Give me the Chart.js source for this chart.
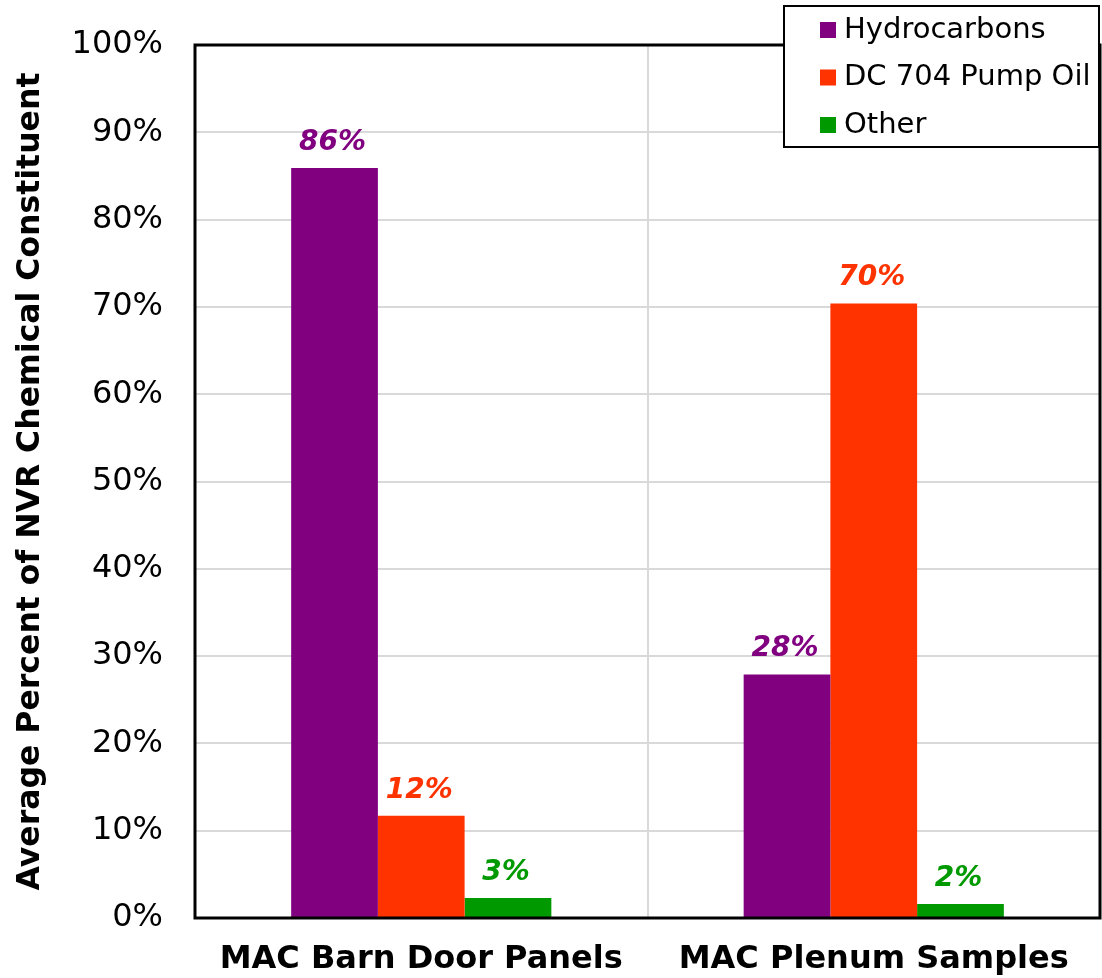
<!DOCTYPE html>
<html>
<head>
<meta charset="utf-8">
<script src="https://cdn.jsdelivr.net/npm/chart.js@4"></script>
<style>
  html, body { margin: 0; padding: 0; background: #fff; }
  #wrap { width: 1102px; height: 978px; }
</style>
</head>
<body>
<div id="wrap"><canvas id="chart" width="1102" height="978"></canvas></div>
<script>
// Chart data
const categories = ['MAC Barn Door Panels', 'MAC Plenum Samples'];
const seriesNames = ['Hydrocarbons', 'DC 704 Pump Oil', 'Other'];
const hydrocarbons = [85.9, 27.9];
const pumpOil = [11.7, 70.4];
const other = [2.3, 1.6];
const hydrocarbonLabels = ['86%', '28%'];
const pumpOilLabels = ['12%', '70%'];
const otherLabels = ['3%', '2%'];
const yTicks = [0, 10, 20, 30, 40, 50, 60, 70, 80, 90, 100];

const FONT = "'DejaVu Sans', Verdana, sans-serif";
const colors = ['#800080', '#ff3300', '#009900'];

// Bold italic value labels above each bar
const valueLabels = {
    id: 'valueLabels',
    afterDatasetsDraw(chart) {
        const ctx = chart.ctx;
        ctx.save();
        ctx.font = 'italic bold 28px ' + FONT;
        ctx.textAlign = 'center';
        ctx.textBaseline = 'alphabetic';
        chart.data.datasets.forEach((ds, i) => {
            const meta = chart.getDatasetMeta(i);
            ctx.fillStyle = ds.backgroundColor;
            meta.data.forEach((bar, j) => {
                ctx.fillText(ds.valueText[j], bar.x - 2, bar.y - 18);
            });
        });
        ctx.restore();
    }
};

// Black frame round the plot, then the boxed legend on top
const frameAndLegend = {
    id: 'frameAndLegend',
    afterDraw(chart) {
        const ctx = chart.ctx;
        const a = chart.chartArea;
        ctx.save();
        ctx.strokeStyle = '#000';
        ctx.lineWidth = 3;
        ctx.strokeRect(a.left, a.top, a.right - a.left, a.bottom - a.top);

        // legend box
        const bx = 784, by = 6, bw = 315, bh = 141;
        ctx.fillStyle = '#fff';
        ctx.fillRect(bx, by, bw, bh);
        ctx.lineWidth = 2;
        ctx.strokeRect(bx, by, bw, bh);

        ctx.font = '29px ' + FONT;
        ctx.textBaseline = 'middle';
        ctx.textAlign = 'left';
        chart.data.datasets.forEach((ds, i) => {
            const cy = 30 + i * 47.5;
            ctx.fillStyle = ds.backgroundColor;
            ctx.fillRect(820, cy - 8, 16, 16);
            ctx.fillStyle = '#000';
            ctx.fillText(ds.label, 844, cy);
        });
        ctx.restore();
    }
};

function init() {
    const ctx = document.getElementById('chart').getContext('2d');
    const values = [hydrocarbons, pumpOil, other];
    const texts = [hydrocarbonLabels, pumpOilLabels, otherLabels];

    new Chart(ctx, {
        type: 'bar',
        data: {
            labels: categories,
            datasets: seriesNames.map((name, i) => ({
                label: name,
                data: values[i],
                valueText: texts[i],
                backgroundColor: colors[i],
                borderWidth: 0,
                categoryPercentage: 0.575,
                barPercentage: 1.0
            }))
        },
        options: {
            responsive: false,
            animation: false,
            layout: { padding: { top: 45, right: 2, bottom: 0, left: 0 } },
            plugins: {
                legend: { display: false },
                tooltip: { enabled: false }
            },
            scales: {
                x: {
                    grid: { color: '#d9d9d9', lineWidth: 2, drawTicks: false, offset: true },
                    border: { display: false },
                    ticks: {
                        color: '#000',
                        padding: 22,
                        font: { family: FONT, size: 32, weight: 'bold' }
                    },
                    afterFit(scale) {
                        scale.height = 60;
                        scale.paddingLeft = 0;
                        scale.paddingRight = 0;
                    }
                },
                y: {
                    min: 0,
                    max: 100,
                    grid: { color: '#d9d9d9', lineWidth: 2, drawTicks: false },
                    border: { display: false },
                    afterBuildTicks(scale) {
                        scale.ticks = yTicks.map(v => ({ value: v }));
                    },
                    ticks: {
                        color: '#000',
                        padding: 32,
                        font: { family: FONT, size: 32 },
                        callback: v => v + '%'
                    },
                    title: {
                        display: true,
                        text: 'Average Percent of NVR Chemical Constituent',
                        color: '#000',
                        padding: { top: 12, bottom: 0 },
                        font: { family: FONT, size: 31.5, weight: 'bold' }
                    },
                    afterFit(scale) {
                        scale.width = 195;
                        scale.paddingTop = 0;
                        scale.paddingBottom = 0;
                    }
                }
            }
        },
        plugins: [valueLabels, frameAndLegend]
    });
}

init();
</script>
</body>
</html>
